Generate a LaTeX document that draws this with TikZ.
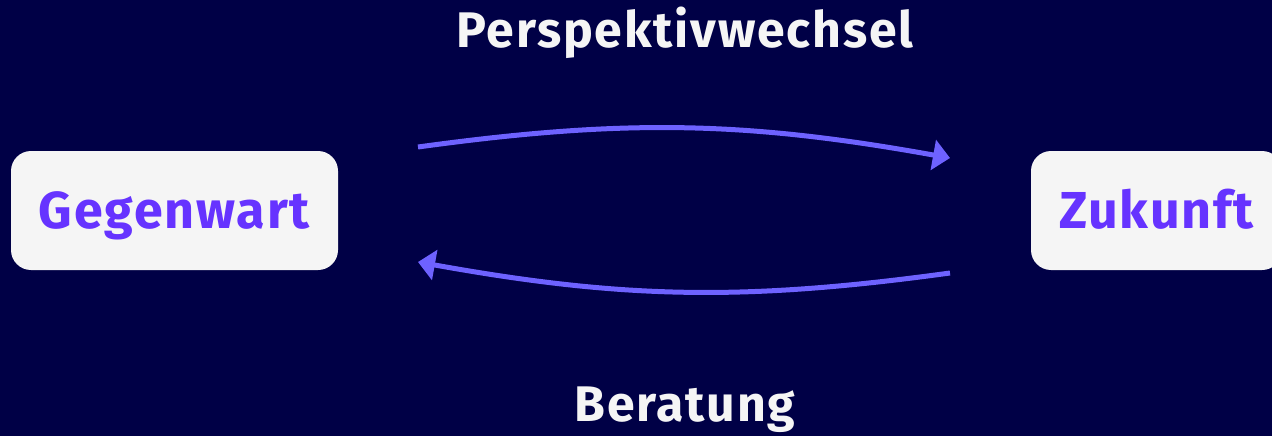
\documentclass[tikz,border=0pt]{standalone}
\usepackage{fontspec}
\setmainfont{Fira Sans}[LetterSpace=3.6]
\usetikzlibrary{arrows.meta}

\definecolor{nachtblau}{RGB}{0,0,70}
\definecolor{hellgrau}{RGB}{245,245,245}
\definecolor{violett}{RGB}{102,51,255}
\definecolor{pfeilblau}{RGB}{110,98,255}

\tikzset{
    kasten/.style={fill=hellgrau, rounded corners=20pt, inner sep=0pt,
        minimum width=327pt, minimum height=119pt,
        text height=36pt, text depth=0pt,
        font=\fontsize{52}{60}\selectfont\bfseries, text=violett},
    titel/.style={font=\fontsize{50}{60}\selectfont\bfseries, text=hellgrau,
        inner sep=0pt, anchor=base},
    pfeil/.style={pfeilblau, line width=5pt,
        -{Triangle[length=17pt,width=30pt]}, bend left=9}
}

\begin{document}
\begin{tikzpicture}[x=1pt, y=-1pt]
    % Hintergrund und Rahmen.
    \useasboundingbox (0,0) rectangle (1272,436);
    \clip (0,0) rectangle (1272,436);
    \fill[nachtblau] (0,0) rectangle (1272,436);

    % Die beiden Zeitpunkte.
    \node[kasten] (gegenwart) at (174.5,210.5) {Gegenwart};
    \node[kasten, minimum width=251pt] (zukunft) at (1156.5,210.5) {Zukunft};

    % Endpunkte der Pfeile.
    \coordinate (hin-a) at (418,147);
    \coordinate (hin-b) at (950,158);
    \coordinate (her-a) at (950,273);
    \coordinate (her-b) at (418,262);

    % Pfeile hin und zurueck.
    \draw[pfeil] (hin-a) to (hin-b);
    \draw[pfeil] (her-a) to (her-b);

    % Beschriftungen.
    \node[titel] (perspektive) at (685,48) {Perspektivwechsel};
    \node[titel] (beratung) at (685,421) {Beratung};
\end{tikzpicture}
\end{document}
